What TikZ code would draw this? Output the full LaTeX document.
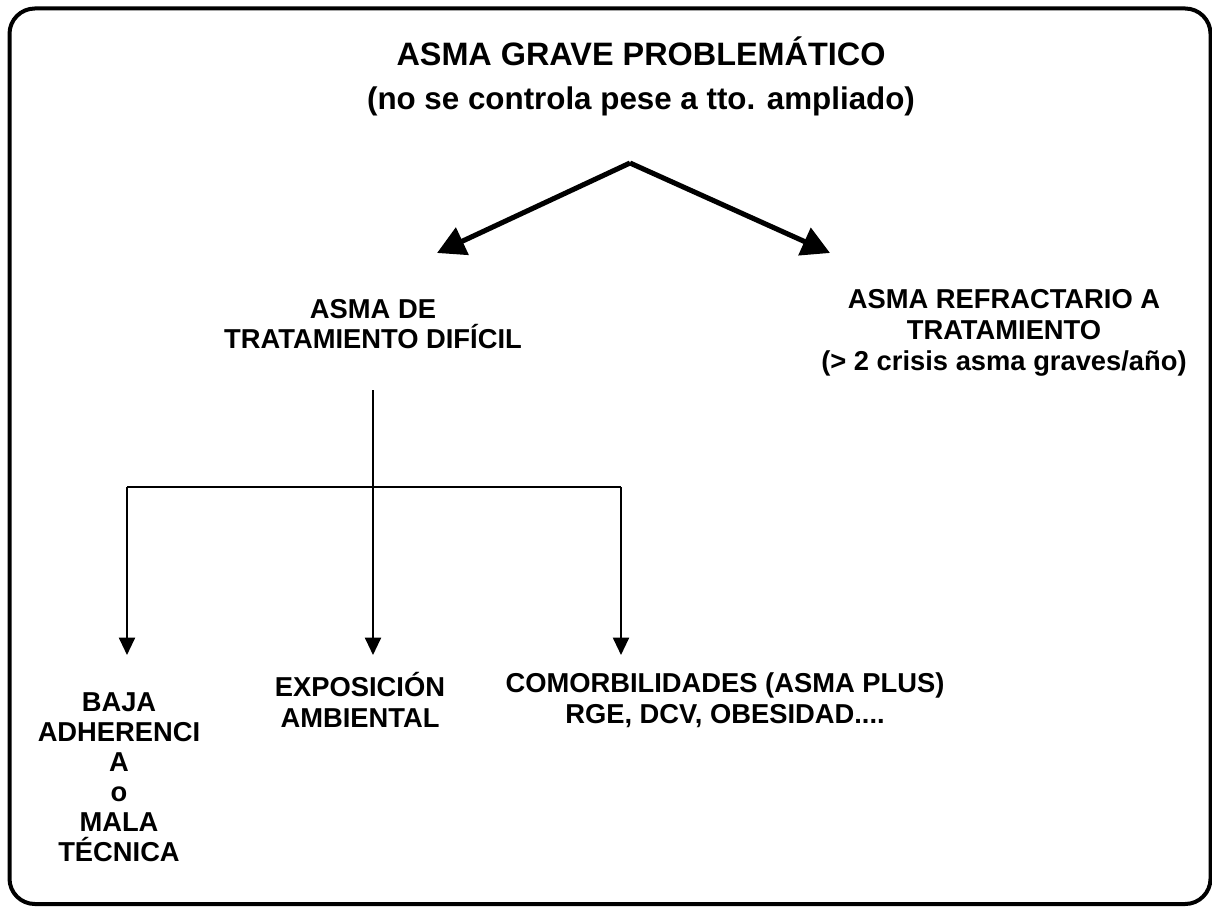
\documentclass[tikz,border=0pt]{standalone}
\usepackage{fontspec}
\setmainfont{Liberation Sans}
\usepackage{tikz}
\usetikzlibrary{arrows.meta, positioning}

\begin{document}
\begin{tikzpicture}[
    x=0.75pt, y=-0.75pt,
    title/.style={align=center, inner sep=0pt, font=\bfseries\fontsize{23.5}{33}\selectfont},
    label/.style={align=center, inner sep=0pt, font=\bfseries\fontsize{20.5}{23}\selectfont},
    bigarrow/.style={-{Triangle[length=21pt, width=22pt]}, line width=3.8pt},
    arrow/.style={-{Triangle[length=13pt, width=12pt]}, line width=1.5pt}
]

\useasboundingbox (0,0) rectangle (1212,906);

% Frame
\draw[line width=3pt, rounded corners=19pt] (9.5,8.5) rectangle (1210.5,904);

% Labels
\node[title] (grave) at (641,76) {{\fontsize{24.3}{33}\selectfont ASMA GRAVE PROBLEMÁTICO} \\ (no se controla pese a tto. ampliado)};
\node[label] (dificil) at (373,324) {ASMA DE \\ TRATAMIENTO DIFÍCIL};
\node[label] (refractario) at (1004,333) {ASMA REFRACTARIO A \\ TRATAMIENTO \\ (> 2 crisis asma graves/año)};
\node[label, font=\bfseries\fontsize{20.5}{22.5}\selectfont] (adherencia) at (119,777) {BAJA \\ ADHERENCI \\ A \\ o \\ MALA \\ TÉCNICA};
\node[label] (ambiental) at (360,700) {EXPOSICIÓN \\ AMBIENTAL};
\node[label] (comorbilidades) at (725,700) {COMORBILIDADES (ASMA PLUS) \\ RGE, DCV, OBESIDAD....};

% Split arrows
\coordinate (apex) at (630,163);
\coordinate (tipL) at (437,253);
\coordinate (tipR) at (830,253);
\draw[bigarrow] (apex) -- (tipL);
\draw[bigarrow] (apex) -- (tipR);

% Tree under dificil
\coordinate (stem) at (373,390);
\coordinate (fork) at (373,487);
\coordinate (tipB) at (127,655);
\coordinate (tipE) at (373,655);
\coordinate (tipC) at (621,655);
\draw[line width=1.5pt] (fork -| tipB) -- (fork -| tipC);
\draw[arrow] (stem) -- (tipE);
\draw[arrow] (fork -| tipB) -- (tipB);
\draw[arrow] (fork -| tipC) -- (tipC);

\end{tikzpicture}
\end{document}
